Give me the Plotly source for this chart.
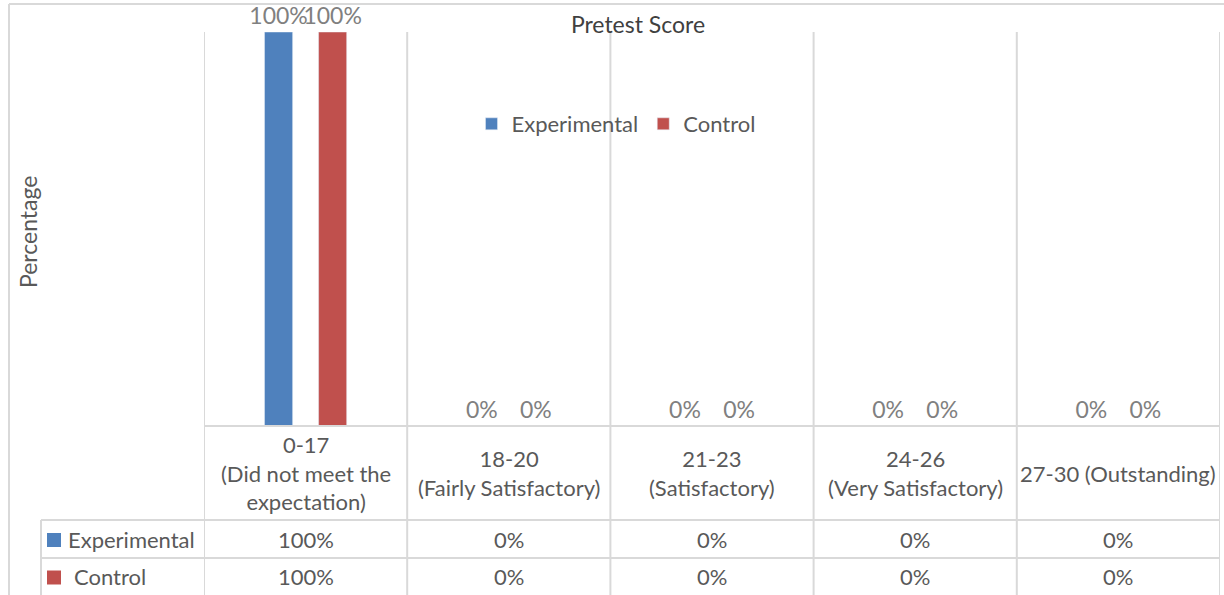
import plotly.graph_objects as go

# ---------------- data ----------------
categories = [
    "0-17<br>(Did not meet the<br>expectation)",
    "18-20<br>(Fairly Satisfactory)",
    "21-23<br>(Satisfactory)",
    "24-26<br>(Very Satisfactory)",
    "27-30 (Outstanding)",
]
cat_keys = ["0-17", "18-20", "21-23", "24-26", "27-30"]
experimental = [1.00, 0.00, 0.00, 0.00, 0.00]
control = [1.00, 0.00, 0.00, 0.00, 0.00]
series_names = ["Experimental", "Control"]
series_colors = ["#4F81BD", "#C0504D"]
title_text = "Pretest Score"
y_title = "Percentage"

# ---------------- layout geometry (pixels) ----------------
W, H = 1224, 595
PL, PR, PT, PB = 204, 1220, 32, 426   # plot area
ROW1, ROW2, BOTTOM = 520, 558, 595    # table row boundaries
TABLE_LEFT = 41
FONT = "Lato"
GRID = "#D9D9D9"
TXT = "#595959"
FS = 22

def px(x):
    return (x - PL) / (PR - PL)

def py(y):
    return (PB - y) / (PB - PT)

fig = go.Figure()
for name, vals, col in zip(series_names, [experimental, control], series_colors):
    fig.add_trace(go.Bar(
        x=cat_keys, y=vals, name=name, marker_color=col,
        texttemplate="%{y:.0%}", textposition="outside",
        textfont=dict(family=FONT, size=23, color="#808080"),
        constraintext="none", cliponaxis=False,
    ))

shapes = []
line = dict(color=GRID, width=2)
# outer border (top & left)
shapes.append(dict(type="line", xref="paper", yref="paper", x0=px(9), x1=px(W + 5), y0=py(4), y1=py(4), line=line))
shapes.append(dict(type="line", xref="paper", yref="paper", x0=px(9), x1=px(9), y0=py(4), y1=py(H + 5), line=line))
# category boundaries
for i in range(len(cat_keys) + 1):
    shapes.append(dict(type="line", xref="x", yref="paper", x0=i - 0.5, x1=i - 0.5,
                       y0=1, y1=py(H + 5), line=line))
# horizontal table lines
shapes.append(dict(type="line", xref="paper", yref="paper", x0=0, x1=1, y0=0, y1=0, line=line))
for yy in (ROW1, ROW2):
    shapes.append(dict(type="line", xref="paper", yref="paper", x0=px(TABLE_LEFT), x1=1,
                       y0=py(yy), y1=py(yy), line=line))
shapes.append(dict(type="line", xref="paper", yref="paper", x0=px(TABLE_LEFT), x1=px(TABLE_LEFT),
                   y0=py(ROW1), y1=py(H + 5), line=line))
# legend keys in table
for (r0, r1), col in zip([(ROW1, ROW2), (ROW2, BOTTOM)], series_colors):
    cy = (r0 + r1) / 2 + 1
    shapes.append(dict(type="rect", xref="paper", yref="paper", x0=px(47), x1=px(61),
                       y0=py(cy - 7), y1=py(cy + 7), fillcolor=col, line=dict(width=0)))

annotations = []
# category labels
for i, c in enumerate(categories):
    annotations.append(dict(x=cat_keys[i], xref="x", y=py((PB + ROW1) / 2), yref="paper",
                            text=c, showarrow=False, xanchor="center", yanchor="middle",
                            font=dict(family=FONT, size=FS, color=TXT)))
# table values
for (r0, r1), name, vals, lx in zip([(ROW1, ROW2), (ROW2, BOTTOM)], series_names,
                                      [experimental, control], [66, 72]):
    cy = (r0 + r1) / 2
    annotations.append(dict(x=px(lx), xref="paper", y=py(cy), yref="paper", text=name,
                            showarrow=False, xanchor="left", yanchor="middle",
                            font=dict(family=FONT, size=FS, color=TXT)))
    for k, v in zip(cat_keys, vals):
        annotations.append(dict(x=k, xref="x", y=py(cy), yref="paper", text=f"{v:.0%}",
                                showarrow=False, xanchor="center", yanchor="middle",
                                font=dict(family=FONT, size=FS, color=TXT)))
# y-axis title
annotations.append(dict(x=px(28), xref="paper", y=py(232), yref="paper", text=y_title,
                        textangle=-90, showarrow=False, xanchor="center", yanchor="middle",
                        font=dict(family=FONT, size=23, color=TXT)))

fig.update_layout(
    width=W, height=H,
    margin=dict(l=PL, r=W - PR, t=PT, b=H - PB, pad=0),
    paper_bgcolor="white", plot_bgcolor="white",
    barmode="group", bargap=0.468, bargroupgap=0.48,
    title=dict(text=title_text, x=638 / W, xanchor="center", y=1 - 25 / H, yanchor="middle",
               yref="container", font=dict(family=FONT, size=23, color="#404040")),
    xaxis=dict(range=[-0.5, len(cat_keys) - 0.5], showticklabels=False, showgrid=False,
               zeroline=False, showline=False, fixedrange=True),
    yaxis=dict(range=[0, 1], visible=False, fixedrange=True),
    legend=dict(orientation="h", x=px(616), xanchor="center", y=py(124), yanchor="middle",
                font=dict(family=FONT, size=FS, color=TXT), bgcolor="rgba(0,0,0,0)"),
    shapes=shapes, annotations=annotations,
    showlegend=True,
)

fig.write_html("out.html")
